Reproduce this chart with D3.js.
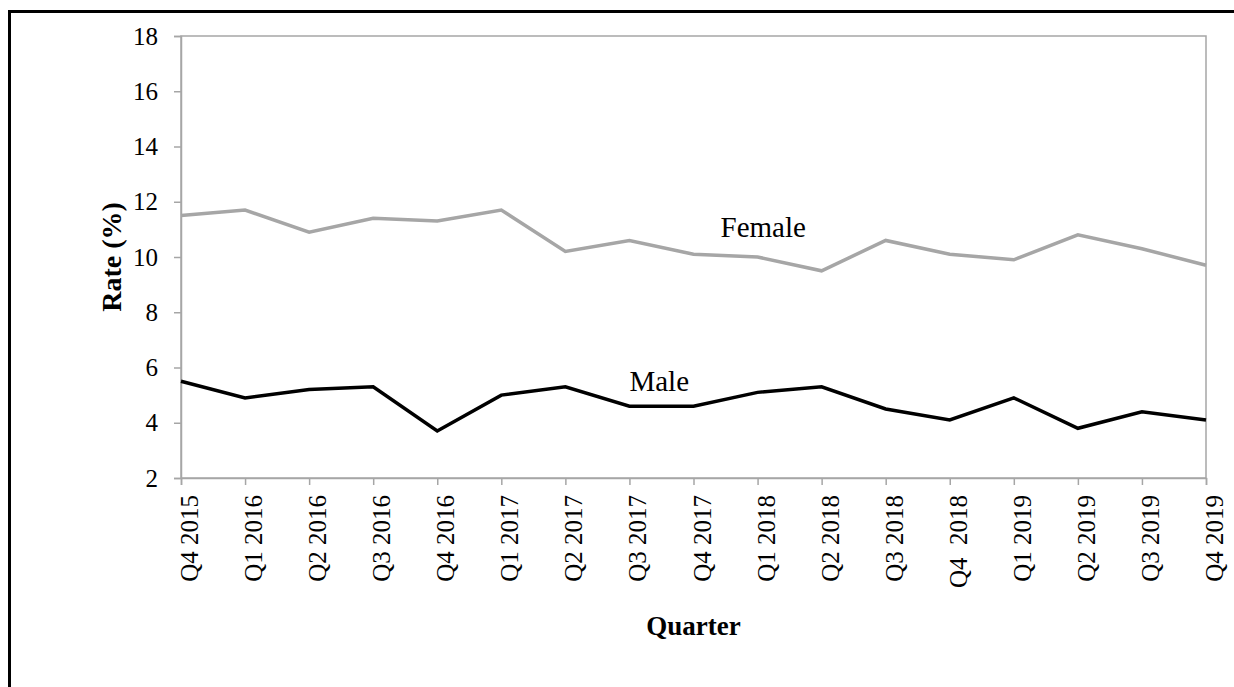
<!DOCTYPE html>
<html>
<head>
<meta charset="utf-8">
<script src="https://cdn.jsdelivr.net/npm/d3@7"></script>
<style>
  html, body { margin: 0; padding: 0; background: #fff; }
  svg { display: block; font-family: "Liberation Serif", "Times New Roman", serif; }
</style>
</head>
<body>
<div id="chart"></div>
<script>
// quarters on the x axis
const quarters = ["Q4 2015", "Q1 2016", "Q2 2016", "Q3 2016", "Q4 2016", "Q1 2017", "Q2 2017",
  "Q3 2017", "Q4 2017", "Q1 2018", "Q2 2018", "Q3 2018", "Q4  2018", "Q1 2019", "Q2 2019",
  "Q3 2019", "Q4 2019"];

const female = [11.5, 11.7, 10.9, 11.4, 11.3, 11.7, 10.2, 10.6, 10.1, 10.0, 9.5, 10.6, 10.1, 9.9, 10.8, 10.3, 9.7];
const male = [5.5, 4.9, 5.2, 5.3, 3.7, 5.0, 5.3, 4.6, 4.6, 5.1, 5.3, 4.5, 4.1, 4.9, 3.8, 4.4, 4.1];

const yTicks = [2, 4, 6, 8, 10, 12, 14, 16, 18];

const width = 1234, height = 687;
const margin = {top: 36, right: 28, bottom: 209, left: 181};
const plotW = width - margin.left - margin.right;
const plotH = height - margin.top - margin.bottom;
const serif = "Liberation Serif, Times New Roman, serif";

const svg = d3.select("#chart").append("svg")
  .attr("width", width)
  .attr("height", height);

// outer frame (only top and left edges visible)
svg.append("path")
  .attr("d", "M9.5," + height + " V11.5 H" + width)
  .attr("fill", "none")
  .attr("stroke", "#000")
  .attr("stroke-width", 3);

const g = svg.append("g")
  .attr("transform", "translate(" + margin.left + "," + margin.top + ")");

const x = d3.scalePoint().domain(quarters).range([0, plotW]);
const y = d3.scaleLinear().domain([2, 18]).range([plotH, 0]);

// plot box
g.append("rect")
  .attr("x", 0).attr("y", 0)
  .attr("width", plotW).attr("height", plotH)
  .attr("fill", "none")
  .attr("stroke", "#a6a6a6")
  .attr("stroke-width", 1.5);

const yAxis = g.append("g")
  .call(d3.axisLeft(y).tickValues(yTicks).tickSize(7).tickPadding(16));
yAxis.select(".domain").attr("stroke", "#a6a6a6").attr("stroke-width", 1.5);
yAxis.selectAll(".tick line").attr("stroke", "#a6a6a6").attr("stroke-width", 1.5);
yAxis.selectAll(".tick text")
  .attr("font-family", serif)
  .attr("font-size", 25)
  .attr("fill", "#000");

const xAxis = g.append("g")
  .attr("transform", "translate(0," + plotH + ")")
  .call(d3.axisBottom(x).tickSize(7).tickPadding(0));
xAxis.select(".domain").attr("stroke", "#a6a6a6").attr("stroke-width", 1.5);
xAxis.selectAll(".tick line").attr("stroke", "#a6a6a6").attr("stroke-width", 1.5);
xAxis.selectAll(".tick text")
  .attr("font-family", serif)
  .attr("font-size", 25)
  .attr("fill", "#000")
  .style("white-space", "pre")
  .attr("text-anchor", "end")
  .attr("dy", "0.38em")
  .attr("transform", "translate(0,17) rotate(-90)");

const line = d3.line()
  .x((d, i) => x(quarters[i]))
  .y(d => y(d));

g.append("path")
  .datum(female)
  .attr("d", line)
  .attr("fill", "none")
  .attr("stroke", "#a6a6a6")
  .attr("stroke-width", 3.5);

g.append("path")
  .datum(male)
  .attr("d", line)
  .attr("fill", "none")
  .attr("stroke", "#000")
  .attr("stroke-width", 3.5);

// series labels
g.append("text")
  .attr("x", x("Q4 2017") + 27)
  .attr("y", y(10.72))
  .attr("font-size", 29)
  .text("Female");

g.append("text")
  .attr("x", x("Q3 2017"))
  .attr("y", y(5.15))
  .attr("font-size", 29)
  .text("Male");

// axis titles
g.append("text")
  .attr("x", plotW / 2)
  .attr("y", plotH + 157)
  .attr("text-anchor", "middle")
  .attr("font-size", 27)
  .attr("font-weight", "bold")
  .text("Quarter");

g.append("text")
  .attr("transform", "translate(" + (-60) + "," + (plotH / 2) + ") rotate(-90)")
  .attr("text-anchor", "middle")
  .attr("font-size", 28)
  .attr("font-weight", "bold")
  .text("Rate (%)");
</script>
</body>
</html>
